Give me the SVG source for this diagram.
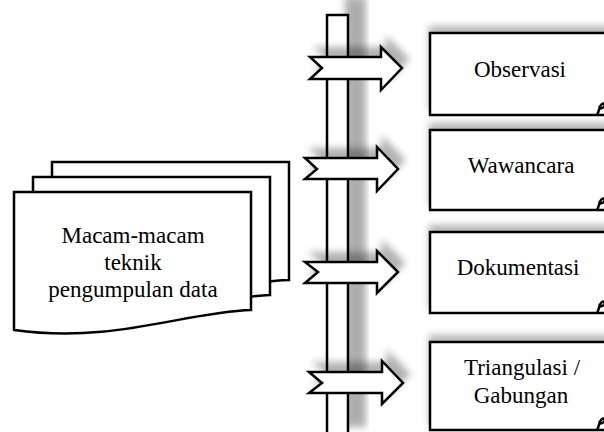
<svg xmlns="http://www.w3.org/2000/svg" width="604" height="432" viewBox="0 0 604 432">
<defs>
<style>
.ln{fill:#fff;stroke:#000;stroke-width:2.5;stroke-linejoin:miter}
.tx{font-family:"Liberation Serif","Times New Roman",serif;font-size:23px;fill:#000;text-anchor:middle}
</style>
<filter id="shBar" x="-100%" y="-20%" width="300%" height="140%">
<feGaussianBlur in="SourceAlpha" stdDeviation="3.5"/>
<feOffset dx="18" dy="-18" result="b"/>
<feFlood flood-color="#000" flood-opacity="0.32"/>
<feComposite in2="b" operator="in"/>
</filter>
<filter id="shArr" x="-20%" y="-60%" width="140%" height="220%">
<feGaussianBlur in="SourceAlpha" stdDeviation="3.5"/>
<feOffset dx="6" dy="-9" result="b"/>
<feFlood flood-color="#000" flood-opacity="0.3"/>
<feComposite in2="b" operator="in"/>
<feMerge><feMergeNode/><feMergeNode in="SourceGraphic"/></feMerge>
</filter>
<filter id="shBox" x="-20%" y="-40%" width="140%" height="180%">
<feGaussianBlur in="SourceAlpha" stdDeviation="3.5"/>
<feOffset dx="0" dy="-6" result="b"/>
<feFlood flood-color="#000" flood-opacity="0.28"/>
<feComposite in2="b" operator="in"/>
<feMerge><feMergeNode/><feMergeNode in="SourceGraphic"/></feMerge>
</filter>
<path id="doc" d="M0,0 H237 V118 C170,120 100,152 0,138 Z"/>
<path id="curl" d="M-3,0 C-1,-3 -1,-9 2,-11 C5,-13 6,-8 2,-7 C0,-6 -1,-7 0,-9"/>
</defs>
<rect width="604" height="432" fill="#fff"/>

<g id="source">
<use href="#doc" x="52" y="162" class="ln"/>
<use href="#doc" x="33" y="177" class="ln"/>
<use href="#doc" x="14" y="192" class="ln"/>
<text class="tx" x="133" y="243">Macam-macam</text>
<text class="tx" x="133" y="270">teknik</text>
<text class="tx" x="133" y="297">pengumpulan data</text>
</g>

<g id="connectors">
<rect x="327" y="15" width="21" height="430" fill="#000" filter="url(#shBar)"/>
<rect x="327" y="15" width="21" height="430" class="ln"/>
<path class="ln" filter="url(#shArr)" d="M310,57 H381 V47 L402,68 L381,90 V79 H310 L322,68 Z"/>
<path class="ln" filter="url(#shArr)" d="M305,158 H377 V147 L398,169 L377,191 V179 H305 L317,169 Z"/>
<path class="ln" filter="url(#shArr)" d="M305,262 H377 V251 L398,272 L377,293 V283 H305 L318,272 Z"/>
<path class="ln" filter="url(#shArr)" d="M309,372 H382 V361 L403,383 L382,404 V393 H309 L322,383 Z"/>
</g>

<g id="observasi">
<path class="ln" filter="url(#shBox)" d="M430,33 H615 V115 H430 Z"/>
<use href="#curl" x="600" y="115" fill="none" stroke="#000" stroke-width="2.5"/>
<text class="tx" x="520" y="77">Observasi</text>
</g>

<g id="wawancara">
<path class="ln" filter="url(#shBox)" d="M430,130 H615 V210 H430 Z"/>
<use href="#curl" x="600" y="210" fill="none" stroke="#000" stroke-width="2.5"/>
<text class="tx" x="521" y="173">Wawancara</text>
</g>

<g id="dokumentasi">
<path class="ln" filter="url(#shBox)" d="M430,232 H615 V313 H430 Z"/>
<use href="#curl" x="600" y="313" fill="none" stroke="#000" stroke-width="2.5"/>
<text class="tx" x="518" y="275">Dokumentasi</text>
</g>

<g id="triangulasi">
<path class="ln" filter="url(#shBox)" d="M430,342 H615 V430 H430 Z"/>
<use href="#curl" x="600" y="430" fill="none" stroke="#000" stroke-width="2.5"/>
<text class="tx" x="522" y="375">Triangulasi /</text>
<text class="tx" x="521" y="403">Gabungan</text>
</g>
</svg>
